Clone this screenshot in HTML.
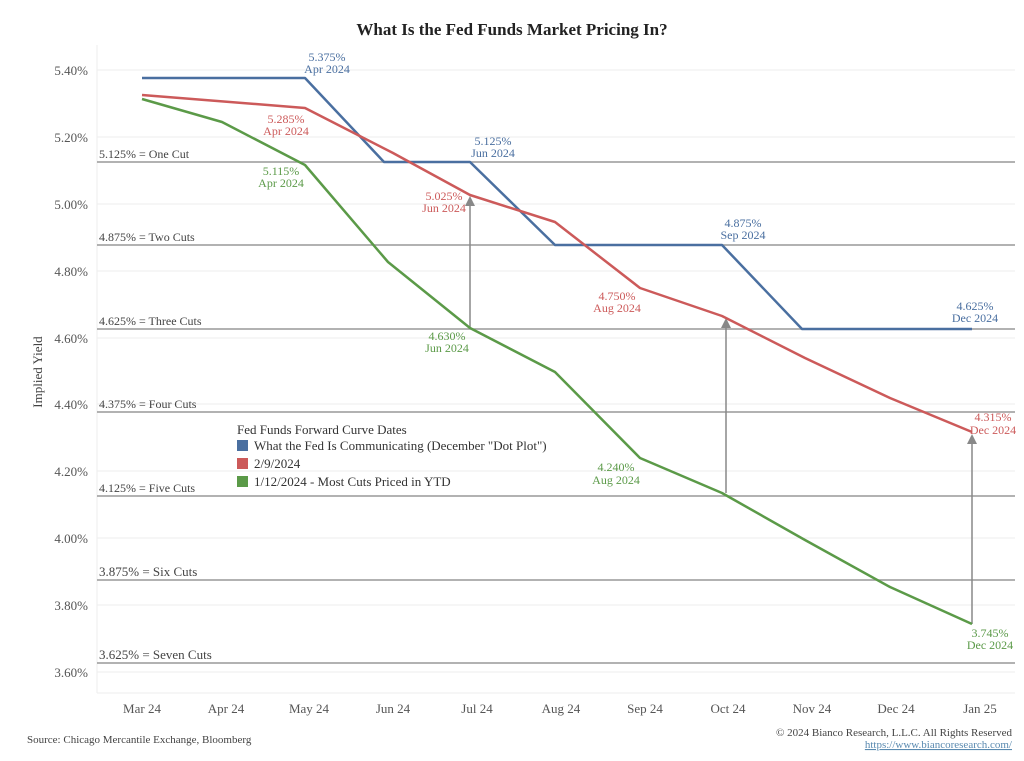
<!DOCTYPE html>
<html><head><meta charset="utf-8"><style>
body{margin:0;background:#fff}
svg{display:block;font-family:"Liberation Serif",serif}
</style></head><body>
<svg width="1024" height="761" viewBox="0 0 1024 761">
<rect width="1024" height="761" fill="#fff"/>
<text x="512" y="35" text-anchor="middle" font-size="17" font-weight="bold" fill="#222">What Is the Fed Funds Market Pricing In?</text>
<g stroke="#eee" stroke-width="1">
<line x1="97" y1="70" x2="1015" y2="70"/><line x1="97" y1="137" x2="1015" y2="137"/><line x1="97" y1="204" x2="1015" y2="204"/><line x1="97" y1="271" x2="1015" y2="271"/><line x1="97" y1="338" x2="1015" y2="338"/><line x1="97" y1="404" x2="1015" y2="404"/><line x1="97" y1="471" x2="1015" y2="471"/><line x1="97" y1="538" x2="1015" y2="538"/><line x1="97" y1="605" x2="1015" y2="605"/><line x1="97" y1="672" x2="1015" y2="672"/>
<line x1="97" y1="693" x2="1015" y2="693"/>
<line x1="97" y1="45" x2="97" y2="693"/>
</g>
<g font-size="13" fill="#555" text-anchor="end">
<text x="88" y="75">5.40%</text><text x="88" y="142">5.20%</text><text x="88" y="209">5.00%</text><text x="88" y="276">4.80%</text><text x="88" y="343">4.60%</text><text x="88" y="409">4.40%</text><text x="88" y="476">4.20%</text><text x="88" y="543">4.00%</text><text x="88" y="610">3.80%</text><text x="88" y="677">3.60%</text>
</g>
<text transform="translate(42,372) rotate(-90)" text-anchor="middle" font-size="13" fill="#444">Implied Yield</text>
<g font-size="13" fill="#555" text-anchor="middle">
<text x="142" y="713">Mar 24</text><text x="226" y="713">Apr 24</text><text x="309" y="713">May 24</text><text x="393" y="713">Jun 24</text><text x="477" y="713">Jul 24</text><text x="561" y="713">Aug 24</text><text x="645" y="713">Sep 24</text><text x="728" y="713">Oct 24</text><text x="812" y="713">Nov 24</text><text x="896" y="713">Dec 24</text><text x="980" y="713">Jan 25</text>
</g>
<g stroke="#999" stroke-width="1.5">
<line x1="97" y1="162" x2="1015" y2="162"/><line x1="97" y1="245" x2="1015" y2="245"/><line x1="97" y1="329" x2="1015" y2="329"/><line x1="97" y1="412" x2="1015" y2="412"/><line x1="97" y1="496" x2="1015" y2="496"/><line x1="97" y1="580" x2="1015" y2="580"/><line x1="97" y1="663" x2="1015" y2="663"/>
</g>
<g font-size="12" fill="#444">
<text x="99" y="158">5.125% = One Cut</text><text x="99" y="241">4.875% = Two Cuts</text><text x="99" y="325">4.625% = Three Cuts</text><text x="99" y="408">4.375% = Four Cuts</text><text x="99" y="492">4.125% = Five Cuts</text>
<text x="99" y="576" font-size="13">3.875% = Six Cuts</text><text x="99" y="659" font-size="13">3.625% = Seven Cuts</text>
</g>
<g stroke="#888" stroke-width="1.5" fill="#888">
<line x1="470" y1="328" x2="470" y2="204"/><path d="M465,206 L470,196 L475,206Z" stroke="none"/>
<line x1="726" y1="493" x2="726" y2="326"/><path d="M721,328 L726,318 L731,328Z" stroke="none"/>
<line x1="972" y1="624" x2="972" y2="442"/><path d="M967,444 L972,434 L977,444Z" stroke="none"/>
</g>
<g fill="none" stroke-width="2.5" stroke-linejoin="round">
<polyline stroke="#4a6fa0" points="142,78 305,78 384,162 470,162 555,245 722,245 802,329 972,329"/>
<polyline stroke="#cc5a5a" points="142,95 305,108 393,153 470,195 555,222 640,288 722,316 805,358 890,398 972,432"/>
<polyline stroke="#5b9a48" points="142,99 222,122 305,165 388,262 470,328 555,372 640,458 722,493 805,540 890,587 972,624"/>
</g>
<g font-size="12" text-anchor="middle">
<g fill="#4a6fa0"><text x="327" y="61">5.375%</text><text x="327" y="73">Apr 2024</text><text x="493" y="145">5.125%</text><text x="493" y="157">Jun 2024</text><text x="743" y="227">4.875%</text><text x="743" y="239">Sep 2024</text><text x="975" y="310">4.625%</text><text x="975" y="322">Dec 2024</text></g>
<g fill="#cc5a5a"><text x="286" y="123">5.285%</text><text x="286" y="135">Apr 2024</text><text x="444" y="200">5.025%</text><text x="444" y="212">Jun 2024</text><text x="617" y="300">4.750%</text><text x="617" y="312">Aug 2024</text><text x="993" y="421">4.315%</text><text x="993" y="434">Dec 2024</text></g>
<g fill="#5b9a48"><text x="281" y="175">5.115%</text><text x="281" y="187">Apr 2024</text><text x="447" y="340">4.630%</text><text x="447" y="352">Jun 2024</text><text x="616" y="471">4.240%</text><text x="616" y="484">Aug 2024</text><text x="990" y="637">3.745%</text><text x="990" y="649">Dec 2024</text></g>
</g>
<g font-size="13" fill="#333">
<text x="237" y="434">Fed Funds Forward Curve Dates</text>
<rect x="237" y="440" width="11" height="11" fill="#4a6fa0"/><text x="254" y="450">What the Fed Is Communicating (December "Dot Plot")</text>
<rect x="237" y="458" width="11" height="11" fill="#cc5a5a"/><text x="254" y="468">2/9/2024</text>
<rect x="237" y="476" width="11" height="11" fill="#5b9a48"/><text x="254" y="486">1/12/2024 - Most Cuts Priced in YTD</text>
</g>
<text x="27" y="743" font-size="11" fill="#444">Source: Chicago Mercantile Exchange, Bloomberg</text>
<text x="1012" y="736" font-size="11" fill="#444" text-anchor="end">© 2024 Bianco Research, L.L.C. All Rights Reserved</text>
<text x="1012" y="748" font-size="11" fill="#5a8ab0" text-anchor="end" text-decoration="underline">https://www.biancoresearch.com/</text>
</svg>
</body></html>
